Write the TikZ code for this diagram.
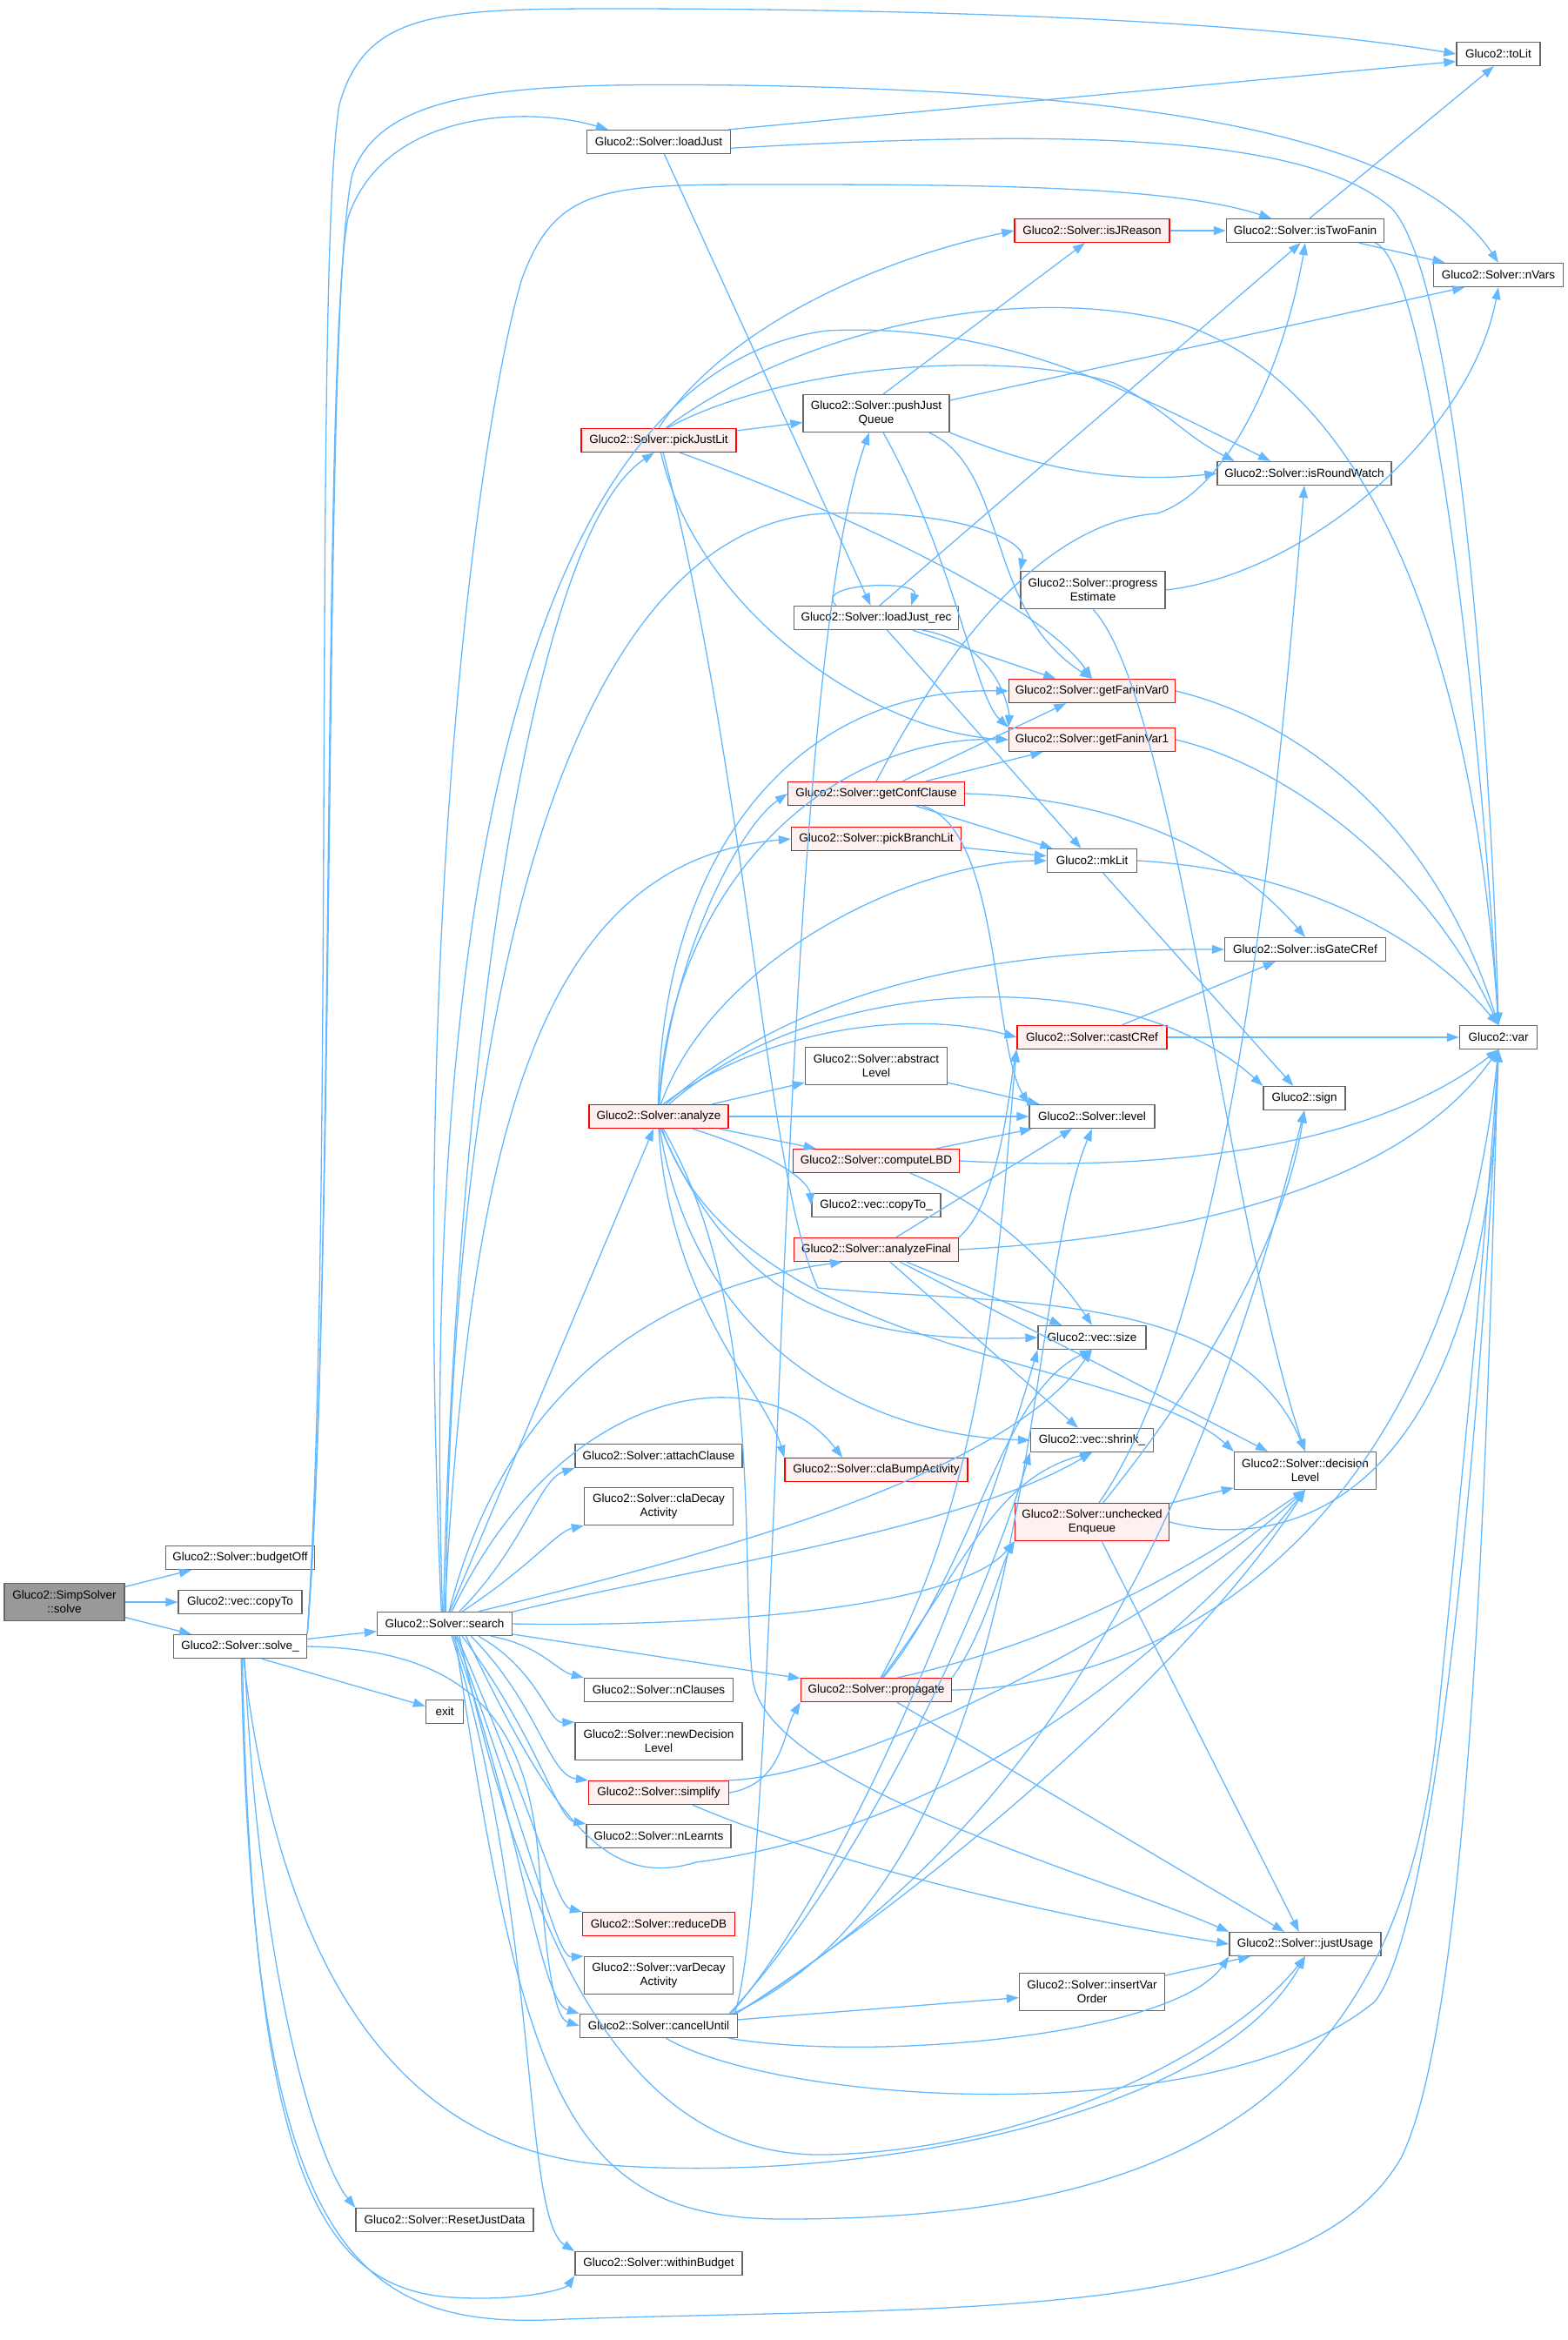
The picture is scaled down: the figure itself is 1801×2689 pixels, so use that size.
\documentclass[tikz,border=0pt]{standalone}
\usepackage{fontspec}
\setmainfont{Liberation Sans}
\usetikzlibrary{arrows.meta}
\definecolor{edgec}{HTML}{63B8FF}
\definecolor{bordc}{HTML}{666666}
\definecolor{redfill}{HTML}{FFF0F0}
\definecolor{rootfill}{HTML}{999999}
\begin{document}
\begin{tikzpicture}[x=1pt,y=-1pt,
  nb/.style={draw=bordc, fill=white, line width=1.3pt, rectangle, minimum height=27pt, inner xsep=4pt, inner ysep=2pt, align=center, font=\fontsize{13.5}{16}\selectfont},
  nb2/.style={nb, minimum height=43pt},
  nr/.style={nb, draw=red, fill=redfill},
  nr2/.style={nr, minimum height=43pt},
  rootn/.style={nb2, fill=rootfill},
  cg/.style={draw=edgec, line width=1.3pt, -{Triangle[length=14pt,width=10pt]}}]
\fill[white] (0,0) rectangle (1801,2689);
\useasboundingbox (0,0) rectangle (1801,2689);
% nodes
\node[rootn, minimum width=138pt] (simp) at (74,1841) {Gluco2::SimpSolver\\::solve};
\node[nb, minimum width=171pt] (budgetOff) at (276,1790) {Gluco2::Solver::budgetOff};
\node[nb, minimum width=142pt] (copyTo) at (276,1841) {Gluco2::vec::copyTo};
\node[nb, minimum width=153pt] (solveu) at (276,1892) {Gluco2::Solver::solve\_};
\node[nb, minimum width=155pt] (search) at (511,1866) {Gluco2::Solver::search};
\node[nb, minimum width=43pt] (exitn) at (511,1967) {exit};
\node[nb, minimum width=204pt] (reset) at (511,2551) {Gluco2::Solver::ResetJustData};
\node[nb, minimum width=165pt] (loadJust) at (757,163) {Gluco2::Solver::loadJust};
\node[nr, minimum width=178pt] (pickJustLit) at (757,506) {Gluco2::Solver::pickJustLit};
\node[nr, minimum width=160pt] (analyze) at (757,1283) {Gluco2::Solver::analyze};
\node[nb, minimum width=192pt] (attachClause) at (757,1673) {Gluco2::Solver::attachClause};
\node[nb2, minimum width=171pt] (claDecay) at (757,1731) {Gluco2::Solver::claDecay\\Activity};
\node[nb, minimum width=171pt] (nClauses) at (757,1942) {Gluco2::Solver::nClauses};
\node[nb2, minimum width=192pt] (newDecision) at (757,2001) {Gluco2::Solver::newDecision\\Level};
\node[nr, minimum width=161pt] (simplify) at (757,2060) {Gluco2::Solver::simplify};
\node[nb, minimum width=166pt] (nLearnts) at (757,2110) {Gluco2::Solver::nLearnts};
\node[nr, minimum width=175pt] (reduceDB) at (757,2211) {Gluco2::Solver::reduceDB};
\node[nb2, minimum width=171pt] (varDecay) at (757,2270) {Gluco2::Solver::varDecay\\Activity};
\node[nb, minimum width=181pt] (cancelUntil) at (757,2328) {Gluco2::Solver::cancelUntil};
\node[nb, minimum width=192pt] (withinBudget) at (757,2601) {Gluco2::Solver::withinBudget};
\node[nb2, minimum width=168pt] (pushJQ) at (1007,475) {Gluco2::Solver::pushJust\\Queue};
\node[nb, minimum width=189pt] (loadJustRec) at (1007,710) {Gluco2::Solver::loadJust\_rec};
\node[nr, minimum width=203pt] (getConfClause) at (1007,912) {Gluco2::Solver::getConfClause};
\node[nr, minimum width=195pt] (pickBranchLit) at (1007,964) {Gluco2::Solver::pickBranchLit};
\node[nb2, minimum width=163pt] (abstractLevel) at (1007,1225) {Gluco2::Solver::abstract\\Level};
\node[nr, minimum width=191pt] (computeLBD) at (1007,1334) {Gluco2::Solver::computeLBD};
\node[nb, minimum width=148pt] (copyTou) at (1007,1385) {Gluco2::vec::copyTo\_};
\node[nr, minimum width=189pt] (analyzeFinal) at (1007,1436) {Gluco2::Solver::analyzeFinal};
\node[nr, minimum width=210pt] (claBump) at (1007,1689) {Gluco2::Solver::claBumpActivity};
\node[nr, minimum width=173pt] (propagate) at (1007,1942) {Gluco2::Solver::propagate};
\node[nr, minimum width=178pt] (isJReason) at (1255,265) {Gluco2::Solver::isJReason};
\node[nb2, minimum width=166pt] (progress) at (1256,678) {Gluco2::Solver::progress\\Estimate};
\node[nr, minimum width=191pt] (gfv0) at (1255,794) {Gluco2::Solver::getFaninVar0};
\node[nr, minimum width=191pt] (gfv1) at (1255,850) {Gluco2::Solver::getFaninVar1};
\node[nb, minimum width=103pt] (mkLit) at (1255,989) {Gluco2::mkLit};
\node[nr, minimum width=172pt] (castCRef) at (1255,1192) {Gluco2::Solver::castCRef};
\node[nb, minimum width=144pt] (level) at (1255,1283) {Gluco2::Solver::level};
\node[nb, minimum width=124pt] (size) at (1255,1537) {Gluco2::vec::size};
\node[nb, minimum width=141pt] (shrink) at (1255,1655) {Gluco2::vec::shrink\_};
\node[nr2, minimum width=177pt] (unchecked) at (1255,1749) {Gluco2::Solver::unchecked\\Enqueue};
\node[nb2, minimum width=167pt] (insertVarOrder) at (1255,2289) {Gluco2::Solver::insertVar\\Order};
\node[nb, minimum width=181pt] (isTwoFanin) at (1500,265) {Gluco2::Solver::isTwoFanin};
\node[nb, minimum width=200pt] (isRoundWatch) at (1499,544) {Gluco2::Solver::isRoundWatch};
\node[nb, minimum width=185pt] (isGateCRef) at (1500,1091) {Gluco2::Solver::isGateCRef};
\node[nb, minimum width=94pt] (sign) at (1499,1262) {Gluco2::sign};
\node[nb2, minimum width=163pt] (decisionLevel) at (1500,1690) {Gluco2::Solver::decision\\Level};
\node[nb, minimum width=174pt] (justUsage) at (1500,2234) {Gluco2::Solver::justUsage};
\node[nb, minimum width=96pt] (toLit) at (1722,62) {Gluco2::toLit};
\node[nb, minimum width=149pt] (nVars) at (1722,316) {Gluco2::Solver::nVars};
\node[nb, minimum width=89pt] (var) at (1722,1192) {Gluco2::var};
% root edges
\draw[cg] (simp) -- (budgetOff);
\draw[cg] (simp) -- (copyTo);
\draw[cg] (simp) -- (solveu);
% solve_
\draw[cg] (solveu) -- (search);
\draw[cg] (solveu.330) -- (exitn);
\draw[cg] (solveu.290) .. controls (300,2300) and (370,2490) .. (reset.north west);
\draw[cg] (solveu.280) .. controls (290,2480) and (360,2630) .. (520,2640) .. controls (600,2645) and (650,2630) .. (withinBudget.south west);
\draw[cg] (solveu.275) .. controls (290,2580) and (400,2680) .. (650,2665) .. controls (1100,2650) and (1500,2670) .. (1610,2480) .. controls (1700,2300) and (1712,1500) .. (var.south);
\draw[cg] (solveu.285) .. controls (320,2250) and (450,2470) .. (700,2488) .. controls (1000,2510) and (1400,2430) .. (justUsage.south);
\draw[cg] (solveu.east) .. controls (560,1895) and (610,2000) .. (620,2150) .. controls (630,2280) and (640,2320) .. (cancelUntil.west);
\draw[cg] (solveu.north east) .. controls (385,1500) and (370,400) .. (400,250) .. controls (440,130) and (600,120) .. ([xshift=25pt]loadJust.north west);
\draw[cg] (solveu.north east) .. controls (385,1400) and (360,300) .. (390,120) .. controls (420,15) and (500,10) .. (700,10) .. controls (1100,10) and (1450,25) .. (toLit.west);
\draw[cg] (solveu.north east) .. controls (388,1400) and (370,350) .. (405,200) .. controls (440,100) and (600,95) .. (850,98) .. controls (1300,105) and (1620,150) .. (nVars.north);
% loadJust
\draw[cg] (loadJust.10) -- (toLit.190);
\draw[cg] (loadJust.355) .. controls (1200,150) and (1500,150) .. (1600,240) .. controls (1680,330) and (1715,900) .. (var.north);
\draw[cg] (loadJust) -- (loadJustRec);
\draw[cg] ([xshift=-46pt]loadJustRec.north) .. controls ([xshift=-75pt,yshift=26pt]loadJustRec.north) and ([xshift=50pt,yshift=30pt]loadJustRec.north) .. ([xshift=40pt]loadJustRec.north);
% pickJustLit
\draw[cg] (pickJustLit) -- (pushJQ);
\draw[cg] (pickJustLit.north) .. controls (830,380) and (1000,300) .. (isJReason.west);
\draw[cg] (pickJustLit.55) .. controls (900,420) and (1150,400) .. (1280,440) .. controls (1340,470) and (1360,500) .. (isRoundWatch.170);
\draw[cg] (pickJustLit.60) .. controls (900,390) and (1150,320) .. (1350,370) .. controls (1550,430) and (1690,700) .. (var.north);
\draw[cg] (pickJustLit.330) .. controls (1000,600) and (1200,700) .. (gfv0.north);
\draw[cg] (pickJustLit.280) .. controls (800,700) and (1000,840) .. (gfv1.west);
\draw[cg] (pickJustLit.290) .. controls (860,900) and (880,1350) .. (940,1480) .. controls (1150,1500) and (1420,1480) .. (decisionLevel.north);
% pushJustQueue
\draw[cg] (pushJQ.70) -- (isJReason.240);
\draw[cg] (pushJQ.10) -- (nVars.200);
\draw[cg] (pushJQ.south east) .. controls (1150,520) and (1250,560) .. (isRoundWatch.west);
\draw[cg] (pushJQ.340) .. controls (1160,540) and (1130,700) .. (gfv0.north);
\draw[cg] (pushJQ.290) .. controls (1100,650) and (1120,800) .. (gfv1.north west);
% isJReason, isTwoFanin
\draw[cg] (isJReason) -- (isTwoFanin);
\draw[cg] (isTwoFanin.70) -- (toLit.250);
\draw[cg] (isTwoFanin) -- (nVars);
\draw[cg] (isTwoFanin.350) .. controls (1640,300) and (1700,800) .. (var.north);
% progressEstimate
\draw[cg] (progress.east) .. controls (1500,660) and (1690,500) .. (nVars.south);
\draw[cg] (progress.south) .. controls (1350,800) and (1410,1400) .. (decisionLevel.north);
% loadJust_rec
\draw[cg] (loadJustRec.75) -- (isTwoFanin.250);
\draw[cg] (loadJustRec) -- (gfv0);
\draw[cg] (loadJustRec.345) .. controls (1150,740) and (1160,820) .. (gfv1.north west);
\draw[cg] (loadJustRec) -- (mkLit);
% getFaninVar
\draw[cg] (gfv0.east) .. controls (1500,830) and (1650,950) .. (var.north);
\draw[cg] (gfv1.east) .. controls (1480,880) and (1640,1000) .. (var.north);
% getConfClause
\draw[cg] (getConfClause.north) .. controls (1090,740) and (1200,600) .. (1330,590) .. controls (1420,560) and (1480,400) .. (isTwoFanin.south);
\draw[cg] (getConfClause) -- (gfv0);
\draw[cg] (getConfClause) -- (gfv1);
\draw[cg] (getConfClause) -- (mkLit);
\draw[cg] (getConfClause.east) .. controls (1250,915) and (1400,960) .. (isGateCRef.north);
\draw[cg] (getConfClause.345) .. controls (1150,950) and (1140,1200) .. (level.north west);
% pickBranchLit, mkLit, castCRef
\draw[cg] (pickBranchLit) -- (mkLit);
\draw[cg] (mkLit.east) .. controls (1500,1000) and (1640,1080) .. (var.north);
\draw[cg] (mkLit) -- (sign);
\draw[cg] (castCRef) -- (isGateCRef);
\draw[cg] (castCRef) -- (var);
% abstractLevel, computeLBD
\draw[cg] (abstractLevel) -- (level);
\draw[cg] (computeLBD) -- (level);
\draw[cg] (computeLBD.east) .. controls (1400,1350) and (1600,1300) .. (var.south);
\draw[cg] (computeLBD.340) .. controls (1150,1390) and (1220,1470) .. (size.north);
% analyzeFinal
\draw[cg] (analyzeFinal.north east) .. controls (1150,1380) and (1160,1250) .. (castCRef.south west);
\draw[cg] (analyzeFinal) -- (level);
\draw[cg] (analyzeFinal.east) .. controls (1400,1420) and (1620,1350) .. (var.south);
\draw[cg] (analyzeFinal) -- (size);
\draw[cg] (analyzeFinal) -- (shrink);
\draw[cg] (analyzeFinal) -- (decisionLevel);
% analyze
\draw[cg] (analyze) -- (abstractLevel);
\draw[cg] (analyze) -- (level);
\draw[cg] (analyze) -- (computeLBD);
\draw[cg] (analyze.340) .. controls (900,1330) and (930,1360) .. (copyTou.west);
\draw[cg] (analyze.87) .. controls (770,1100) and (850,950) .. (getConfClause.west);
\draw[cg] (analyze.92) .. controls (760,1000) and (900,790) .. (gfv0.west);
\draw[cg] (analyze.89) .. controls (770,1020) and (950,845) .. (gfv1.west);
\draw[cg] (analyze.80) .. controls (820,1100) and (1050,990) .. (mkLit.west);
\draw[cg] (analyze.70) .. controls (880,1180) and (1050,1160) .. (castCRef.west);
\draw[cg] (analyze.60) .. controls (900,1150) and (1100,1090) .. (isGateCRef.west);
\draw[cg] (analyze.50) .. controls (950,1110) and (1300,1110) .. (sign.north west);
\draw[cg] (analyze.280) .. controls (840,1480) and (950,1545) .. (size.west);
\draw[cg] (analyze.275) .. controls (800,1550) and (1000,1650) .. (shrink.west);
\draw[cg] (analyze.270) .. controls (770,1500) and (880,1600) .. (claBump.north west);
\draw[cg] (analyze.285) .. controls (850,1560) and (1300,1560) .. (decisionLevel.north west);
\draw[cg] (analyze.290) .. controls (880,1500) and (850,1800) .. (865,1930) .. controls (880,2050) and (1250,2150) .. (justUsage.north west);
% search
\draw[cg] (search) -- (analyze);
\draw[cg] (search.95) .. controls (520,1300) and (600,620) .. (pickJustLit.250);
\draw[cg] (search.90) .. controls (540,1300) and (620,990) .. (pickBranchLit.west);
\draw[cg] (search.85) .. controls (520,1000) and (700,600) .. (950,590) .. controls (1100,585) and (1180,620) .. (progress.north west);
\draw[cg] (search.100) .. controls (480,900) and (650,420) .. (950,380) .. controls (1150,370) and (1300,450) .. (isRoundWatch.160);
\draw[cg] (search.105) .. controls (470,1000) and (560,450) .. (600,320) .. controls (640,210) and (700,212) .. (900,212) .. controls (1150,212) and (1350,215) .. (isTwoFanin.160);
\draw[cg] (search.70) .. controls (580,1600) and (750,1480) .. (analyzeFinal.200);
\draw[cg] (search.60) .. controls (650,1580) and (880,1560) .. (claBump.160);
\draw[cg] (search.20) .. controls (800,1790) and (1150,1700) .. (size.south);
\draw[cg] (search.10) .. controls (800,1800) and (1100,1760) .. (shrink.south);
\draw[cg] (search.0) .. controls (800,1870) and (1100,1850) .. (unchecked.south west);
\draw[cg] (search) -- (propagate);
\draw[cg] (search.330) .. controls (640,2100) and (700,2170) .. (800,2140) .. controls (1100,2100) and (1350,1900) .. (decisionLevel.south);
\draw[cg] (search.320) .. controls (620,2300) and (750,2480) .. (950,2476) .. controls (1200,2470) and (1420,2350) .. (justUsage.south);
\draw[cg] (search.310) .. controls (600,2400) and (650,2550) .. (900,2550) .. controls (1300,2550) and (1600,2450) .. (1650,2000) .. controls (1680,1700) and (1710,1400) .. (var.south);
\draw[cg] (search.305) .. controls (600,2100) and (620,2300) .. (cancelUntil.north west);
\draw[cg] (search.300) .. controls (620,2200) and (600,2550) .. (withinBudget.north west);
\draw[cg] (search.40) .. controls (600,1780) and (620,1700) .. (attachClause.south west);
\draw[cg] (search.35) .. controls (610,1800) and (640,1760) .. (claDecay.south west);
\draw[cg] (search.345) .. controls (620,1890) and (640,1920) .. (nClauses.north west);
\draw[cg] (search.340) .. controls (620,1920) and (630,1980) .. (newDecision.north west);
\draw[cg] (search.335) .. controls (620,1960) and (630,2040) .. (simplify.north west);
\draw[cg] (search.325) .. controls (620,2000) and (640,2090) .. (nLearnts.north west);
\draw[cg] (search.315) .. controls (620,2100) and (640,2190) .. (reduceDB.north west);
\draw[cg] (search.312) .. controls (620,2150) and (640,2250) .. (varDecay.north west);
% propagate
\draw[cg] (propagate.north east) .. controls (1130,1880) and (1150,1800) .. (unchecked.south west);
\draw[cg] (propagate.60) .. controls (1120,1800) and (1150,1600) .. (size.south);
\draw[cg] (propagate.65) .. controls (1110,1800) and (1140,1700) .. (shrink.south);
\draw[cg] (propagate.30) .. controls (1250,1880) and (1400,1780) .. (decisionLevel.south);
\draw[cg] (propagate.east) .. controls (1300,1940) and (1660,1800) .. (var.south);
\draw[cg] (propagate) -- (justUsage);
\draw[cg] (propagate.70) .. controls (1140,1700) and (1150,1400) .. (castCRef.south west);
% uncheckedEnqueue
\draw[cg] (unchecked) -- (decisionLevel);
\draw[cg] (unchecked.70) .. controls (1420,1500) and (1470,900) .. (isRoundWatch.south);
\draw[cg] (unchecked.60) .. controls (1410,1550) and (1480,1400) .. (sign.south);
\draw[cg] (unchecked.east) .. controls (1500,1790) and (1710,1700) .. (var.south);
\draw[cg] (unchecked) -- (justUsage);
% simplify
\draw[cg] (simplify.east) .. controls (900,2050) and (900,1990) .. (propagate.south west);
\draw[cg] (simplify.340) .. controls (950,2140) and (1200,2200) .. (justUsage.west);
\draw[cg] (simplify.10) .. controls (1000,2040) and (1350,1850) .. (decisionLevel.south);
% cancelUntil
\draw[cg] (cancelUntil) -- (insertVarOrder);
\draw[cg] (cancelUntil.350) .. controls (1000,2370) and (1350,2340) .. (justUsage.south west);
\draw[cg] (cancelUntil.300) .. controls (900,2420) and (1400,2450) .. (1580,2300) .. controls (1660,2200) and (1710,1500) .. (var.south);
\draw[cg] ([xshift=-2pt]cancelUntil.north east) .. controls (1100,2150) and (1380,1900) .. (decisionLevel.south);
\draw[cg] ([xshift=-3pt]cancelUntil.north east) .. controls (1200,2100) and (1380,1750) .. (sign.south);
\draw[cg] ([xshift=-8pt]cancelUntil.north east) .. controls (980,2150) and (1120,1800) .. (size.south west);
\draw[cg] ([xshift=-10pt]cancelUntil.north east) .. controls (990,2150) and (1130,1850) .. (shrink.south west);
\draw[cg] ([xshift=-4pt]cancelUntil.north east) .. controls (900,2150) and (890,800) .. (pushJQ.250);
\draw[cg] ([xshift=-6pt]cancelUntil.north east) .. controls (1200,2150) and (1170,1500) .. (level.south);
\draw[cg] (insertVarOrder) -- (justUsage);
\end{tikzpicture}
\end{document}
